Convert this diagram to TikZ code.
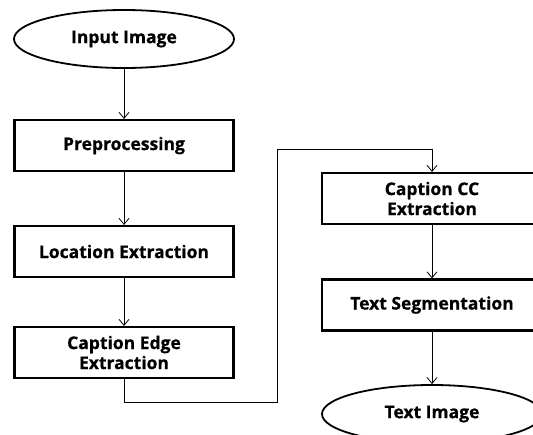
\documentclass[tikz,border=0pt]{standalone}
\usepackage{fontspec}
\setmainfont{Open Sans}[BoldFeatures={FakeBold=0.6}]
\usetikzlibrary{shapes.geometric,arrows.meta}
\tikzset{
  stagebox/.style={draw, line width=2.2pt, minimum width=219pt, minimum height=51pt,
    align=center, font=\bfseries\fontsize{17.5}{20}\selectfont, inner sep=0pt},
  endpoint/.style={draw, ellipse, line width=1.8pt, minimum width=220pt, minimum height=58pt,
    font=\bfseries\fontsize{17.5}{20}\selectfont, inner sep=0pt},
  flow/.style={line width=0.8pt, -{Straight Barb[length=6pt,width=10pt]}}
}
\begin{document}
\begin{tikzpicture}[x=1pt, y=-1pt]
    \clip (0,0) rectangle (533,434);
    \fill[white] (0,0) rectangle (533,434);
    %% left column
    \node[endpoint] (inp) at (124, 39) {Input Image};
    \node[stagebox] (pre) at (124, 145.5) {Preprocessing};
    \node[stagebox] (loc) at (124, 251.5) {Location Extraction};
    \node[stagebox] (edge) at (124, 352.5) {Caption Edge\\Extraction};
    %% right column
    \node[stagebox, minimum width=220pt] (cc) at (432, 198.5) {Caption CC\\Extraction};
    \node[stagebox, minimum width=220pt] (seg) at (432, 305) {Text Segmentation};
    \node[endpoint] (out) at (432, 414) {Text Image};
    %% connectors
    \coordinate (bendA) at (277, 402);
    \coordinate (bendB) at (277, 149);
    \draw[flow] (inp) -- (pre);
    \draw[flow] (pre) -- (loc);
    \draw[flow] (loc) -- (edge);
    \draw[flow] (edge.south) |- (bendA) -- (bendB) -| (cc.north);
    \draw[flow] (cc) -- (seg);
    \draw[flow] (seg) -- (out);
\end{tikzpicture}
\end{document}
